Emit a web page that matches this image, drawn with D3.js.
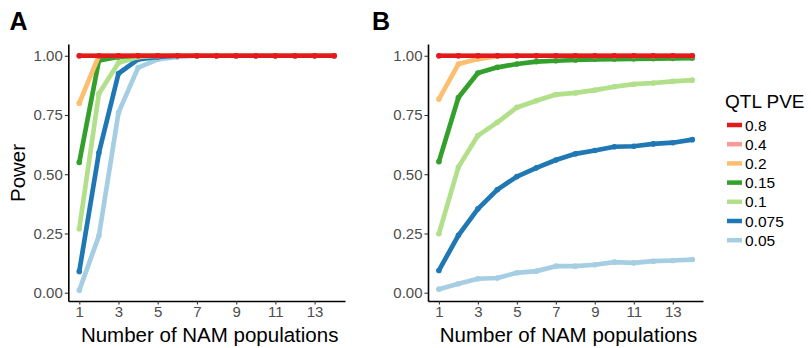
<!DOCTYPE html>
<html>
<head>
<meta charset="utf-8">
<script src="https://cdn.jsdelivr.net/npm/d3@7"></script>
<style>
  body { margin: 0; background: #fff; }
  svg { font-family: "Liberation Sans", Arial, Helvetica, sans-serif; }
</style>
</head>
<body>
<div id="chart"></div>
<script>
// Data
const nPops = [1, 2, 3, 4, 5, 6, 7, 8, 9, 10, 11, 12, 13, 14];
const pveLevels = ["0.8", "0.4", "0.2", "0.15", "0.1", "0.075", "0.05"];
const pveColors = ["#e31a1c", "#fb9a99", "#fdbf6f", "#33a02c", "#b2df8a", "#1f78b4", "#a6cee3"];
const xTicks = [1, 3, 5, 7, 9, 11, 13];
const yTicks = [0, 0.25, 0.5, 0.75, 1];

// Panel A power values
const powerA_08 = [1, 1, 1, 1, 1, 1, 1, 1, 1, 1, 1, 1, 1, 1];
const powerA_04 = [1, 1, 1, 1, 1, 1, 1, 1, 1, 1, 1, 1, 1, 1];
const powerA_02 = [0.80, 1, 1, 1, 1, 1, 1, 1, 1, 1, 1, 1, 1, 1];
const powerA_015 = [0.55, 0.98, 0.995, 1, 1, 1, 1, 1, 1, 1, 1, 1, 1, 1];
const powerA_01 = [0.27, 0.84, 0.97, 0.995, 1, 1, 1, 1, 1, 1, 1, 1, 1, 1];
const powerA_0075 = [0.09, 0.59, 0.925, 0.985, 0.995, 1, 1, 1, 1, 1, 1, 1, 1, 1];
const powerA_005 = [0.01, 0.24, 0.76, 0.95, 0.985, 0.995, 1, 1, 1, 1, 1, 1, 1, 1];

// Panel B power values
const powerB_08 = [1, 1, 1, 1, 1, 1, 1, 1, 1, 1, 1, 1, 1, 1];
const powerB_04 = [1, 1, 1, 1, 1, 1, 1, 1, 1, 1, 1, 1, 1, 1];
const powerB_02 = [0.817, 0.965, 0.986, 0.998, 1, 1, 1, 1, 1, 1, 1, 1, 1, 1];
const powerB_015 = [0.553, 0.824, 0.927, 0.951, 0.965, 0.975, 0.979, 0.982, 0.985, 0.986, 0.987, 0.988, 0.989, 0.99];
const powerB_01 = [0.249, 0.53, 0.663, 0.719, 0.782, 0.81, 0.836, 0.843, 0.855, 0.869, 0.88, 0.885, 0.892, 0.897];
const powerB_0075 = [0.094, 0.242, 0.354, 0.435, 0.49, 0.527, 0.56, 0.586, 0.60, 0.616, 0.618, 0.628, 0.633, 0.646];
const powerB_005 = [0.015, 0.038, 0.059, 0.062, 0.084, 0.091, 0.112, 0.112, 0.118, 0.129, 0.126, 0.133, 0.136, 0.14];

const panelA = [powerA_08, powerA_04, powerA_02, powerA_015, powerA_01, powerA_0075, powerA_005];
const panelB = [powerB_08, powerB_04, powerB_02, powerB_015, powerB_01, powerB_0075, powerB_005];

const W = 811, H = 348;
const svg = d3.select("#chart").append("svg")
  .attr("width", W)
  .attr("height", H);

const y = d3.scaleLinear().domain([-0.035, 1.05]).range([301, 43.9]);

function drawPanel(series, left, right, label, labelX, showYTitle) {
  const x = d3.scaleLinear().domain([0.44, 14.55]).range([left, right]);
  const g = svg.append("g");

  // Axes
  const xAxis = g.append("g")
    .attr("transform", `translate(0,${y.range()[0]})`)
    .call(d3.axisBottom(x).tickValues(xTicks).tickSize(3.5).tickPadding(2).tickSizeOuter(0));
  const yAxis = g.append("g")
    .attr("transform", `translate(${left},0)`)
    .call(d3.axisLeft(y).tickValues(yTicks).tickFormat(d3.format(".2f")).tickSize(3.5).tickPadding(2).tickSizeOuter(0));
  [xAxis, yAxis].forEach(a => {
    a.select(".domain").attr("stroke", "#000").attr("stroke-width", 1.6);
    a.selectAll(".tick line").attr("stroke", "#333").attr("stroke-width", 1.1);
    a.selectAll(".tick text").attr("fill", "#4d4d4d").style("font-size", "15px").attr("font-family", null);
  });

  // Lines, lowest level first so red sits on top
  const line = d3.line().x((d, i) => x(nPops[i])).y(d => y(d));
  for (let k = series.length - 1; k >= 0; k--) {
    g.append("path")
      .datum(series[k])
      .attr("d", line)
      .attr("fill", "none")
      .attr("stroke", pveColors[k])
      .attr("stroke-width", 4.7)
      .attr("stroke-linejoin", "round")
      .attr("stroke-linecap", "round");
    g.selectAll(null)
      .data(series[k])
      .join("circle")
      .attr("cx", (d, i) => x(nPops[i]))
      .attr("cy", d => y(d))
      .attr("r", 2.8)
      .attr("fill", pveColors[k]);
  }

  // Axis title
  g.append("text")
    .attr("x", (left + right) / 2 + 3)
    .attr("y", 341.5)
    .attr("text-anchor", "middle")
    .style("font-size", "20.5px")
    .text("Number of NAM populations");

  if (showYTitle) {
    g.append("text")
      .attr("transform", "rotate(-90)")
      .attr("x", -173)
      .attr("y", 25)
      .attr("text-anchor", "middle")
      .style("font-size", "20.5px")
      .text("Power");
  }

  // Panel tag
  g.append("text")
    .attr("x", labelX)
    .attr("y", 30)
    .style("font-size", "25px")
    .style("font-weight", "bold")
    .text(label);
}

drawPanel(panelA, 68.3, 345, "A", 9.5, true);
drawPanel(panelB, 428, 703, "B", 372, false);

// Legend
const legend = svg.append("g");
legend.append("text")
  .attr("x", 725)
  .attr("y", 108)
  .style("font-size", "19px")
  .text("QTL PVE");
pveLevels.forEach((lvl, i) => {
  const cy = 125 + i * 19.2;
  legend.append("line")
    .attr("x1", 727).attr("x2", 742)
    .attr("y1", cy).attr("y2", cy)
    .attr("stroke", pveColors[i])
    .attr("stroke-width", 4.5);
  legend.append("text")
    .attr("x", 745)
    .attr("y", cy + 5.5)
    .style("font-size", "15.5px")
    .text(lvl);
});
</script>
</body>
</html>
